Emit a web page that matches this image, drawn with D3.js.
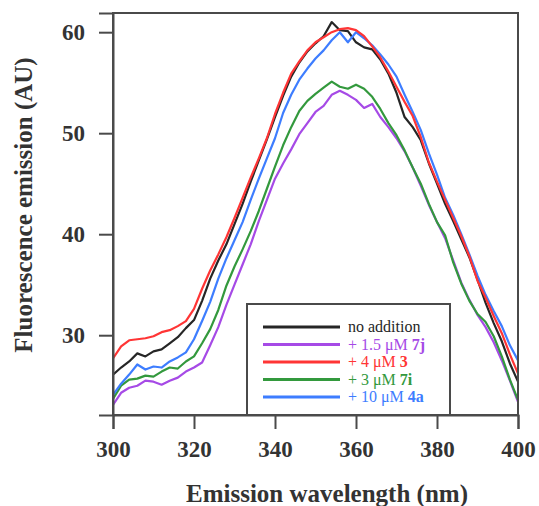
<!DOCTYPE html>
<html><head><meta charset="utf-8">
<script src="https://cdn.jsdelivr.net/npm/d3@7"></script>
<style>body{margin:0;background:#fff}</style>
</head><body>
<svg id="c" width="539" height="506"></svg>
<script>
const wavelengths = d3.range(300, 401, 2);
const noAddition = [26.1,26.8,27.4,28.2,27.9,28.4,28.6,29.2,29.8,30.7,31.5,33.4,35.6,37.4,39.0,41.0,43.0,45.2,47.3,49.4,51.6,53.7,55.6,57.0,58.1,58.9,59.6,61.0,60.2,60.1,59.0,58.5,58.3,57.3,55.9,54.0,51.6,50.6,49.3,47.0,45.0,43.0,41.3,39.5,37.7,35.5,33.2,31.2,29.4,27.2,25.4];
const plus7j = [23.1,24.3,24.8,25.0,25.5,25.4,25.1,25.5,25.8,26.4,26.8,27.3,29.0,30.8,33.0,35.0,37.0,39.0,41.3,43.4,45.5,47.0,48.4,49.9,51.0,52.1,52.7,53.8,54.2,53.8,53.3,52.5,52.9,51.6,50.6,49.5,48.2,46.6,44.8,42.9,41.2,39.6,37.4,35.2,33.5,32.0,30.8,29.3,27.5,25.5,23.4];
const plus3 = [27.7,28.9,29.5,29.6,29.7,29.9,30.3,30.5,30.9,31.4,32.6,34.6,36.4,38.0,39.7,41.6,43.6,45.6,47.5,49.5,51.9,54.0,55.9,57.1,58.2,59.0,59.5,60.0,60.3,60.4,60.2,59.6,58.6,57.5,56.1,54.6,53.1,51.7,49.6,47.1,45.2,43.4,41.6,39.8,37.8,35.4,33.7,31.9,30.2,28.1,26.2];
const plus7i = [23.7,25.0,25.6,25.7,26.0,25.9,26.4,26.8,26.7,27.4,27.9,29.2,30.6,32.5,34.9,36.8,38.5,40.3,42.3,44.5,46.7,48.8,50.6,52.2,53.2,53.9,54.5,55.1,54.6,54.4,54.8,54.4,53.6,52.4,51.0,49.8,48.3,46.6,45.0,43.0,41.2,39.9,37.2,35.1,33.4,32.1,31.3,29.9,27.9,25.6,23.6];
const plus4a = [24.1,25.2,26.1,27.1,26.6,26.9,26.8,27.4,27.8,28.3,29.6,31.4,33.3,35.6,37.6,39.4,41.2,43.4,45.5,47.5,49.5,52.0,53.8,55.3,56.4,57.4,58.2,59.2,60.0,59.0,60.0,59.4,58.7,57.8,56.8,55.6,53.8,52.1,50.3,48.0,45.9,43.6,41.9,40.0,38.0,35.9,34.0,32.4,30.9,29.0,27.5];
const xTicks = [300,320,340,360,380,400];
const yTicks = [30,40,50,60];
const seriesNames = ["no addition","+ 1.5 μM 7j","+ 4 μM 3","+ 3 μM 7i","+ 10 μM 4a"];
const seriesPlain = ["no addition","+ 1.5 μM ","+ 4 μM ","+ 3 μM ","+ 10 μM "];
const seriesBold = ["","7j","3","7i","4a"];
const seriesColors = ["#262626","#a64ae6","#ff3535","#33993d","#3d7dff"];
const seriesData = [noAddition, plus7j, plus3, plus7i, plus4a];

const svg = d3.select("#c");
const L=113, R=518, T=13, B=415;
const x = d3.scaleLinear().domain([300,400]).range([L,R]);
const y = d3.scaleLinear().domain([22.1,61.9]).range([B,T]);
const font = "'Liberation Serif','Times New Roman',serif";
const axisCol = "#4a4a4a";

const line = d3.line().x((d,i)=>x(wavelengths[i])).y(d=>y(d));
svg.append("clipPath").attr("id","pc").append("rect").attr("x",L).attr("y",T).attr("width",R-L).attr("height",B-T);
const g = svg.append("g").attr("clip-path","url(#pc)");
[1,3,0,4,2].forEach(k=>{
  g.append("path").datum(seriesData[k]).attr("d",line)
   .attr("fill","none").attr("stroke",seriesColors[k]).attr("stroke-width",2.2)
   .attr("stroke-linejoin","round");
});

svg.append("rect").attr("x",L).attr("y",T).attr("width",R-L).attr("height",B-T)
  .attr("fill","none").attr("stroke",axisCol).attr("stroke-width",2);

const xAxis = d3.axisBottom(x).tickValues(xTicks).tickSize(14).tickPadding(12).tickFormat(d3.format("d"));
const gx = svg.append("g").attr("transform",`translate(0,${B})`).call(xAxis);
const yAxis = d3.axisLeft(y).tickValues(yTicks).tickSize(14).tickPadding(14).tickFormat(d3.format("d"));
const gy = svg.append("g").attr("transform",`translate(${L},0)`).call(yAxis);
[gx,gy].forEach(a=>{
  a.select(".domain").attr("stroke",axisCol).attr("stroke-width",2);
  a.selectAll(".tick line").attr("stroke",axisCol).attr("stroke-width",2);
  a.selectAll(".tick text").attr("fill","#333").attr("font-family",font)
   .attr("font-weight","bold").attr("font-size",23);
});

svg.append("text").attr("x",327).attr("y",502).attr("text-anchor","middle")
  .attr("font-family",font).attr("font-weight","bold").attr("font-size",25).attr("fill","#333")
  .text("Emission wavelength (nm)");
svg.append("text").attr("transform","translate(32,205) rotate(-90)").attr("text-anchor","middle")
  .attr("font-family",font).attr("font-weight","bold").attr("font-size",25).attr("fill","#333")
  .text("Fluorescence emission (AU)");

const lg = svg.append("g");
lg.append("rect").attr("x",247).attr("y",304).attr("width",203).attr("height",B-304)
  .attr("fill","#fff").attr("stroke",axisCol).attr("stroke-width",2);
seriesNames.forEach((n,i)=>{
  const yy = 327 + i*17.5;
  lg.append("line").attr("x1",263).attr("x2",340).attr("y1",yy).attr("y2",yy)
    .attr("stroke",seriesColors[i]).attr("stroke-width",3);
  const t = lg.append("text").attr("x",348).attr("y",yy+5)
    .attr("font-family",font).attr("font-size",16).attr("fill",seriesColors[i]);
  t.append("tspan").text(seriesPlain[i]);
  if (seriesBold[i]) t.append("tspan").attr("font-weight","bold").text(seriesBold[i]);
});
</script>
</body></html>
